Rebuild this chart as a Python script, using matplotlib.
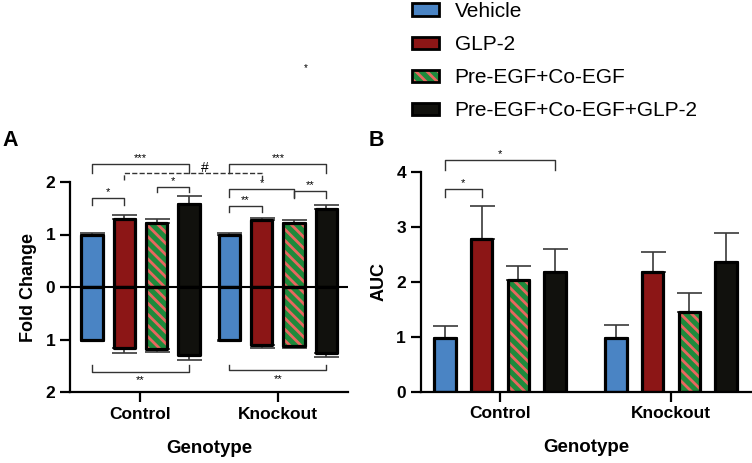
import numpy as np
import matplotlib
matplotlib.use("Agg")
from matplotlib import pyplot as plt
from matplotlib.patches import Patch

plt.rcParams['font.family'] = ['Liberation Sans', 'DejaVu Sans']
plt.rcParams['hatch.linewidth'] = 2.0

# data
genotypes = ['Control', 'Knockout']
treatments = ['Vehicle', 'GLP-2', 'Pre-EGF+Co-EGF', 'Pre-EGF+Co-EGF+GLP-2']

fold_up = [[1.00, 1.30, 1.21, 1.59], [1.00, 1.28, 1.21, 1.48]]
fold_up_sem = [[0.03, 0.08, 0.08, 0.14], [0.03, 0.04, 0.07, 0.08]]
fold_down = [[1.00, 1.17, 1.18, 1.30], [1.00, 1.10, 1.12, 1.25]]
fold_down_sem = [[0.03, 0.08, 0.05, 0.09], [0.03, 0.07, 0.05, 0.09]]

auc = [[0.98, 2.79, 2.03, 2.19], [0.98, 2.19, 1.46, 2.36]]
auc_sem = [[0.22, 0.60, 0.27, 0.41], [0.24, 0.35, 0.34, 0.53]]

colors = ['#4a84c4', '#8c1616', '#1e8a3c', '#11110d']
stripe = '#e8675f'
err_col = '#3a3a3a'

fig = plt.figure(figsize=(7.52, 4.63), dpi=100)
axA = fig.add_axes([70/752, 1-392/463, 278/752, 210/463])
axB = fig.add_axes([420.7/752, 1-391.7/463, 330.3/752, 219.4/463])


def draw_bars(ax, xs, vals, sems, width, up=True):
    for i, (x, v, s) in enumerate(zip(xs, vals, sems)):
        h = v if up else -v
        if i == 2:
            ax.bar(x, h, width, color=colors[2], edgecolor=stripe, hatch='\\\\\\',
                   linewidth=0, zorder=2)
            ax.bar(x, h, width, facecolor='none', edgecolor='black', linewidth=2.3,
                   zorder=3, joinstyle='round')
        else:
            ax.bar(x, h, width, color=colors[i], edgecolor='black', linewidth=2.3,
                   zorder=2, joinstyle='round')
        yerr = [[0], [s]] if up else [[s], [0]]
        ax.errorbar(x, h, yerr=yerr, fmt='none', ecolor=err_col, elinewidth=1.2,
                    capsize=9, capthick=1.2, zorder=1)


def bracket(ax, x1, x2, y, leg, text, down=False, dashed=False, fs=8, tx=None, ty=0.02):
    ls = '--' if dashed else '-'
    y2 = y + leg if down else y - leg
    ax.plot([x1, x1, x2, x2], [y2, y, y, y2], color='#333333', lw=1.0, ls=ls,
            clip_on=False, zorder=4)
    if tx is None:
        tx = (x1 + x2) / 2
    if down:
        ax.text(tx, y - 0.06, text, ha='center', va='top', fontsize=fs, clip_on=False)
    else:
        ax.text(tx, y + ty, text, ha='center', va='bottom', fontsize=fs, clip_on=False)


# ---- panel A
sepA = 4.25
centersA = np.arange(len(genotypes)) * sepA
offs = np.arange(len(treatments)) - 1.5
posA = [c + offs for c in centersA]
for g in range(len(genotypes)):
    draw_bars(axA, posA[g], fold_up[g], fold_up_sem[g], 0.66, up=True)
    draw_bars(axA, posA[g], fold_down[g], fold_down_sem[g], 0.66, up=False)

axA.axhline(0, color='black', lw=1.5, zorder=4)
axA.set_xlim(-2.18, 6.42)
axA.set_ylim(-2, 2)
axA.set_yticks([-2, -1, 0, 1, 2])
axA.set_yticklabels(['2', '1', '0', '1', '2'])
axA.set_xticks(centersA)
axA.set_xticklabels(genotypes)
axA.set_ylabel('Fold Change', fontsize=13, fontweight='bold', labelpad=6)
axA.set_xlabel('Genotype', fontsize=13.5, fontweight='bold', labelpad=13)

c, k = posA
bracket(axA, c[0], c[3], 2.34, 0.17, '***')
bracket(axA, k[0], k[3], 2.34, 0.17, '***')
bracket(axA, c[1], k[1], 2.17, 0.14, '#', dashed=True, fs=10,
        tx=(c[1] + k[1]) / 2 + 0.35, ty=-0.03)
bracket(axA, c[0], c[1], 1.70, 0.14, '*')
bracket(axA, c[2], c[3], 1.91, 0.10, '*')
bracket(axA, k[0], k[1], 1.54, 0.11, '**')
bracket(axA, k[0], k[2], 1.87, 0.15, '*')
bracket(axA, k[2], k[3], 1.83, 0.13, '**')
bracket(axA, c[0], c[3], -1.62, 0.13, '**', down=True)
bracket(axA, k[0], k[3], -1.59, 0.10, '**', down=True)

# ---- panel B
sepB = 4.66
centersB = np.arange(len(genotypes)) * sepB
posB = [cc + offs for cc in centersB]
for g in range(len(genotypes)):
    draw_bars(axB, posB[g], auc[g], auc_sem[g], 0.58, up=True)

axB.set_xlim(-2.16, 6.84)
axB.set_ylim(0, 4)
axB.set_yticks([0, 1, 2, 3, 4])
axB.set_xticks(centersB)
axB.set_xticklabels(genotypes)
axB.set_ylabel('AUC', fontsize=13, fontweight='bold', labelpad=6)
axB.set_xlabel('Genotype', fontsize=13.5, fontweight='bold', labelpad=13)

cb = posB[0]
bracket(axB, cb[0], cb[3], 4.23, 0.19, '*')
bracket(axB, cb[0], cb[1], 3.70, 0.15, '*')

for ax in (axA, axB):
    for side in ('top', 'right'):
        ax.spines[side].set_visible(False)
    for side in ('left', 'bottom'):
        ax.spines[side].set_linewidth(1.6)
    ax.tick_params(width=1.6, length=7, labelsize=12.5)
    for lab in ax.get_xticklabels() + ax.get_yticklabels():
        lab.set_fontweight('bold')
    ax.set_facecolor('none')

fig.text(2/752, 1-140/463, 'A', fontsize=15.5, fontweight='bold', va='center')
fig.text(369/752, 1-141/463, 'B', fontsize=15.5, fontweight='bold', va='center')
fig.text(306/752, 1-68/463, '*', fontsize=7, ha='center', va='center')

# legend
handles = [
    Patch(facecolor=colors[0], edgecolor='black', linewidth=2),
    Patch(facecolor=colors[1], edgecolor='black', linewidth=2),
    (Patch(facecolor=colors[2], edgecolor=stripe, hatch='\\\\\\', linewidth=0),
     Patch(facecolor='none', edgecolor='black', linewidth=2)),
    Patch(facecolor=colors[3], edgecolor='black', linewidth=2),
]
fig.legend(handles, treatments, loc='upper left', bbox_to_anchor=(412/752, 1 - 2/463),
           frameon=False, fontsize=15, borderpad=0, borderaxespad=0,
           handlelength=1.3, handleheight=0.55, labelspacing=0.68, handletextpad=0.75)

fig.savefig('out.png', dpi=100)
